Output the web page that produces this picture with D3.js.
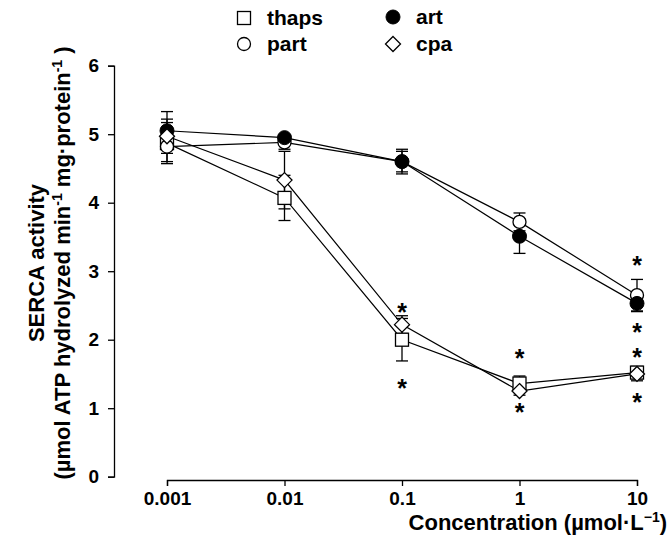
<!DOCTYPE html>
<html>
<head>
<meta charset="utf-8">
<script src="https://cdn.jsdelivr.net/npm/d3@7"></script>
<style>
  body { margin: 0; background: #fff; }
  svg text { font-family: "Liberation Sans", Arial, sans-serif; font-weight: bold; fill: #000; }
</style>
</head>
<body>
<script>
var w = 670;
var h = 553;

// concentrations (µmol/L)
var conc = [0.001, 0.01, 0.1, 1, 10];
var tickLabels = ["0.001", "0.01", "0.1", "1", "10"];
var yTicks = [0, 1, 2, 3, 4, 5, 6];

// series means and SEMs
var thaps = [4.87, 4.07, 2.0, 1.36, 1.52];
var thapsErr = [0.30, 0.33, 0.31, 0.11, 0.09];
var part = [4.82, 4.88, 4.60, 3.72, 2.65];
var partErr = [0.22, 0.10, 0.15, 0.13, 0.23];
var art = [5.05, 4.95, 4.60, 3.51, 2.53];
var artErr = [0.28, 0.04, 0.18, 0.25, 0.12];
var cpa = [4.97, 4.33, 2.22, 1.25, 1.50];
var cpaErr = [0.25, 0.42, 0.13, 0.06, 0.10];

// significance stars: [concentration, y value]
var stars = [[0.1, 2.48], [0.1, 1.37], [1, 1.80], [1, 1.02],
             [10, 3.16], [10, 2.19], [10, 1.82], [10, 1.17]];

var series = [
  {name: "thaps", vals: thaps, err: thapsErr, shape: "square"},
  {name: "part", vals: part, err: partErr, shape: "circle"},
  {name: "art", vals: art, err: artErr, shape: "dot"},
  {name: "cpa", vals: cpa, err: cpaErr, shape: "diamond"}
];

var x = d3.scaleLog().domain([0.001, 10]).range([167, 637]);
var y = d3.scaleLinear().domain([0, 6]).range([476.7, 65.7]);

var svg = d3.select("body").append("svg")
  .attr("width", w)
  .attr("height", h);

// axes
svg.append("g")
  .attr("transform", "translate(114,0)")
  .call(d3.axisLeft(y).tickValues(yTicks).tickFormat(d3.format("d")).tickSize(6).tickPadding(9));
svg.append("g")
  .attr("transform", "translate(0,480)")
  .call(d3.axisBottom(x).tickValues(conc).tickFormat((d, i) => tickLabels[i]).tickSize(6).tickPadding(6));
svg.selectAll(".tick text").style("font-size", "19px").style("font-family", "Liberation Sans, Arial, sans-serif").style("font-weight", "bold");
svg.selectAll(".domain, .tick line").attr("stroke", "#000").attr("stroke-width", 1.3);

// symbol drawing
function drawMarker(g, shape, cx, cy) {
  if (shape === "square") {
    g.append("rect").attr("x", cx - 6.5).attr("y", cy - 6.5).attr("width", 13).attr("height", 13)
      .attr("fill", "#fff").attr("stroke", "#000").attr("stroke-width", 1.3);
  } else if (shape === "circle") {
    g.append("circle").attr("cx", cx).attr("cy", cy).attr("r", 6.5)
      .attr("fill", "#fff").attr("stroke", "#000").attr("stroke-width", 1.3);
  } else if (shape === "dot") {
    g.append("circle").attr("cx", cx).attr("cy", cy).attr("r", 7)
      .attr("fill", "#000").attr("stroke", "#000");
  } else {
    g.append("path").attr("d", `M${cx},${cy - 7.5}L${cx + 7.5},${cy}L${cx},${cy + 7.5}L${cx - 7.5},${cy}Z`)
      .attr("fill", "#fff").attr("stroke", "#000").attr("stroke-width", 1.3);
  }
}

var line = d3.line().x((d, i) => x(conc[i])).y(d => y(d));

var plot = svg.append("g");
// lines first
series.forEach(s => {
  plot.append("path").datum(s.vals)
    .attr("d", line)
    .attr("fill", "none")
    .attr("stroke", "#000")
    .attr("stroke-width", 1.2);
});
// error bars
series.forEach(s => {
  s.vals.forEach((v, i) => {
    var cx = x(conc[i]);
    var y1 = y(v + s.err[i]), y2 = y(v - s.err[i]);
    plot.append("line").attr("x1", cx).attr("x2", cx).attr("y1", y1).attr("y2", y2)
      .attr("stroke", "#000").attr("stroke-width", 1.3);
    [y1, y2].forEach(yy => {
      plot.append("line").attr("x1", cx - 6).attr("x2", cx + 6).attr("y1", yy).attr("y2", yy)
        .attr("stroke", "#000").attr("stroke-width", 1.3);
    });
  });
});
// markers
series.forEach(s => {
  s.vals.forEach((v, i) => drawMarker(plot, s.shape, x(conc[i]), y(v)));
});

// stars
svg.selectAll(".star")
  .data(stars)
  .enter()
    .append("text")
    .attr("class", "star")
    .attr("x", d => x(d[0]))
    .attr("y", d => y(d[1]) + 14)
    .attr("text-anchor", "middle")
    .style("font-size", "25px")
    .text("*");

// legend
var legend = [
  {name: "thaps", shape: "square", lx: 244, ly: 18},
  {name: "art", shape: "dot", lx: 393, ly: 17},
  {name: "part", shape: "circle", lx: 244, ly: 44},
  {name: "cpa", shape: "diamond", lx: 393, ly: 44}
];
legend.forEach(l => {
  var g = svg.append("g");
  drawMarker(g, l.shape, l.lx, l.ly);
  g.append("text").attr("x", l.lx + 23).attr("y", l.ly + 7)
    .style("font-size", "21px").text(l.name);
});

// y title
var yt = svg.append("text")
  .attr("transform", "translate(44,263) rotate(-90)")
  .attr("text-anchor", "middle")
  .style("font-size", "22px");
yt.append("tspan").attr("x", 0).attr("y", 0).text("SERCA activity");
yt.append("tspan").attr("x", 0).attr("y", 26).text("(µmol ATP hydrolyzed min")
  .append("tspan").attr("dy", -8).style("font-size", "14px").text("-1");
yt.append("tspan").attr("dy", 8).text(" mg·protein")
  .append("tspan").attr("dy", -8).style("font-size", "14px").text("-1");
yt.append("tspan").attr("dy", 8).text(" )");

// x title
var xt = svg.append("text")
  .attr("x", 667).attr("y", 530)
  .attr("text-anchor", "end")
  .style("font-size", "22px");
xt.append("tspan").text("Concentration (µmol·L");
xt.append("tspan").attr("dy", -8).style("font-size", "14px").text("−1");
xt.append("tspan").attr("dy", 8).text(")");
</script>
</body>
</html>
